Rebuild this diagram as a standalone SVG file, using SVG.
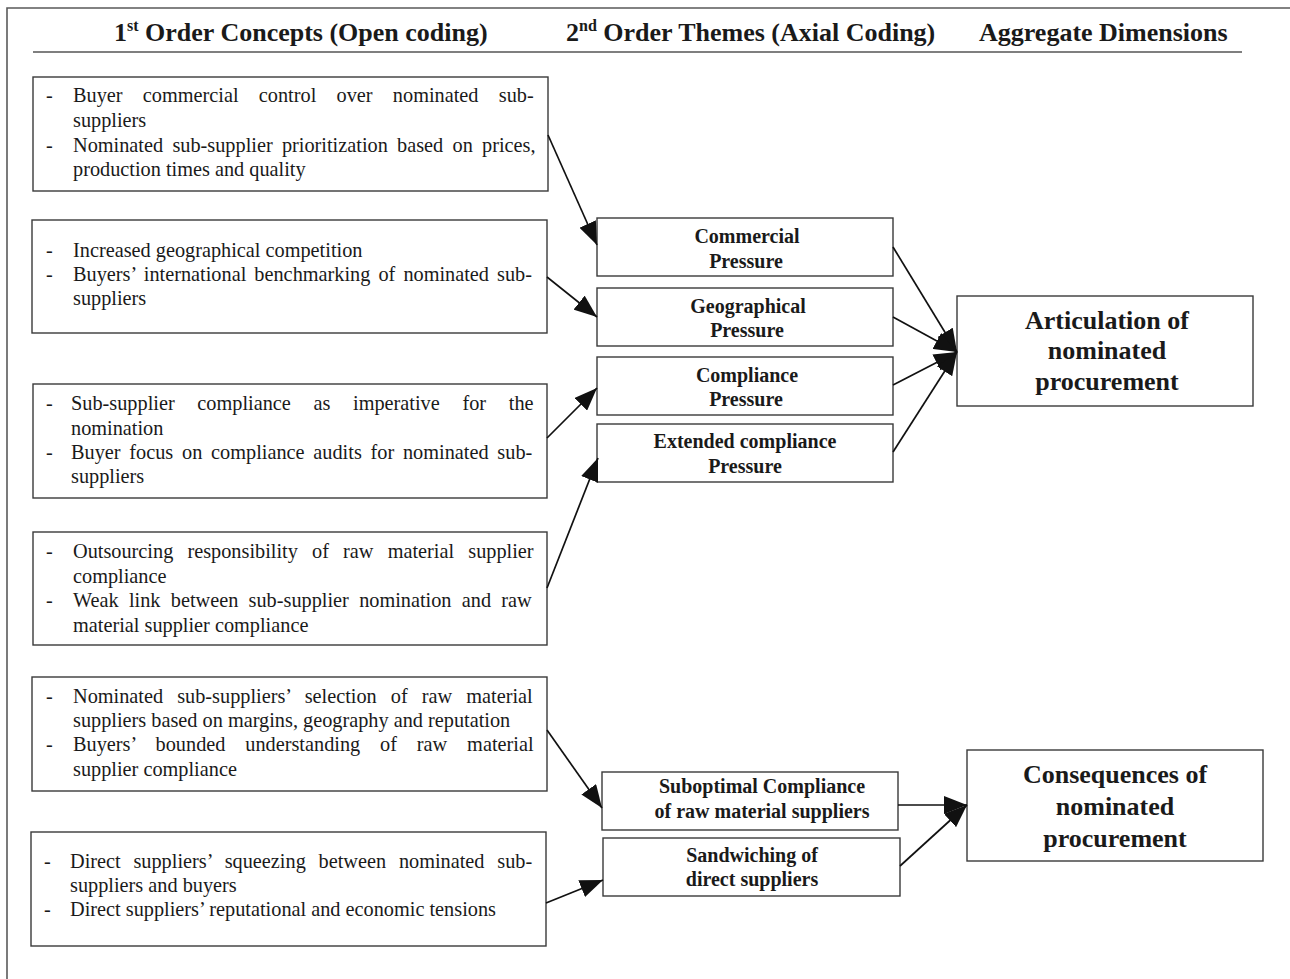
<svg xmlns="http://www.w3.org/2000/svg" width="1290" height="979" viewBox="0 0 1290 979">
<style>
.frame{fill:none;stroke:#5a5a5a;stroke-width:1.6}
.box{fill:#fff;stroke:#3a3a3a;stroke-width:1.4}
.hdr{font-family:"Liberation Serif","Times New Roman",serif;font-weight:bold;font-size:26px;fill:#1a1a1a}
.con{font-family:"Liberation Serif","Times New Roman",serif;font-size:20.3px;fill:#1a1a1a}
.th{font-family:"Liberation Serif","Times New Roman",serif;font-weight:bold;font-size:20px;fill:#1a1a1a;text-anchor:middle}
.ag{font-family:"Liberation Serif","Times New Roman",serif;font-weight:bold;font-size:26px;fill:#1a1a1a;text-anchor:middle}
.edge{fill:none;stroke:#111;stroke-width:1.7}
</style>
<defs>
<marker id="ah" markerUnits="userSpaceOnUse" markerWidth="24" markerHeight="18" refX="23" refY="9" orient="auto">
<path d="M0,0 L23,9 L0,18 Z" fill="#111"/>
</marker>
</defs>
<rect width="1290" height="979" fill="#fff"/>
<g id="frame">
<path class="frame" d="M7,979 L7,8 L1290,8"/>
<line x1="33" y1="52" x2="1242" y2="52" stroke="#555" stroke-width="1.6"/>
</g>
<g id="headers">
<text class="hdr" x="114" y="41">1<tspan font-size="16" dy="-10">st</tspan><tspan dy="10"> Order Concepts (Open coding)</tspan></text>
<text class="hdr" x="566" y="41">2<tspan font-size="16" dy="-10">nd</tspan><tspan dy="10"> Order Themes (Axial Coding)</tspan></text>
<text class="hdr" x="979" y="41">Aggregate Dimensions</text>
</g>
<g id="c1">
<rect class="box" x="33" y="77" width="515" height="114"/>
<text class="con" x="46" y="102">-</text>
<text class="con" x="73" y="102" word-spacing="15.2">Buyer commercial control over nominated sub-</text>
<text class="con" x="73" y="127">suppliers</text>
<text class="con" x="46" y="152">-</text>
<text class="con" x="73" y="152" word-spacing="4.2">Nominated sub-supplier prioritization based on prices,</text>
<text class="con" x="73" y="176">production times and quality</text>
</g>
<g id="c2">
<rect class="box" x="32" y="220" width="515" height="113"/>
<text class="con" x="46" y="257">-</text>
<text class="con" x="73" y="257">Increased geographical competition</text>
<text class="con" x="46" y="281">-</text>
<text class="con" x="73" y="281" word-spacing="3.0">Buyers’ international benchmarking of nominated sub-</text>
<text class="con" x="73" y="305">suppliers</text>
</g>
<g id="c3">
<rect class="box" x="33" y="384" width="514" height="114"/>
<text class="con" x="46" y="410">-</text>
<text class="con" x="71" y="410" word-spacing="17.6">Sub-supplier compliance as imperative for the</text>
<text class="con" x="71" y="435">nomination</text>
<text class="con" x="46" y="459">-</text>
<text class="con" x="71" y="459" word-spacing="3.7">Buyer focus on compliance audits for nominated sub-</text>
<text class="con" x="71" y="483">suppliers</text>
</g>
<g id="c4">
<rect class="box" x="33" y="532" width="514" height="113"/>
<text class="con" x="46" y="558">-</text>
<text class="con" x="73" y="558" word-spacing="9.1">Outsourcing responsibility of raw material supplier</text>
<text class="con" x="73" y="583">compliance</text>
<text class="con" x="46" y="607">-</text>
<text class="con" x="73" y="607" word-spacing="5.2">Weak link between sub-supplier nomination and raw</text>
<text class="con" x="73" y="632">material supplier compliance</text>
</g>
<g id="c5">
<rect class="box" x="32" y="677" width="515" height="114"/>
<text class="con" x="46" y="703">-</text>
<text class="con" x="73" y="703" word-spacing="9.0">Nominated sub-suppliers’ selection of raw material</text>
<text class="con" x="73" y="727">suppliers based on margins, geography and reputation</text>
<text class="con" x="46" y="751">-</text>
<text class="con" x="73" y="751" word-spacing="14.8">Buyers’ bounded understanding of raw material</text>
<text class="con" x="73" y="776">supplier compliance</text>
</g>
<g id="c6">
<rect class="box" x="31" y="832" width="515" height="114"/>
<text class="con" x="44" y="868">-</text>
<text class="con" x="70" y="868" word-spacing="7.7">Direct suppliers’ squeezing between nominated sub-</text>
<text class="con" x="70" y="892">suppliers and buyers</text>
<text class="con" x="44" y="916">-</text>
<text class="con" x="70" y="916">Direct suppliers’ reputational and economic tensions</text>
</g>
<g id="t-commercial">
<rect class="box" x="597" y="218" width="296" height="58"/>
<text class="th" x="747" y="243">Commercial</text>
<text class="th" x="746" y="268">Pressure</text>
</g>
<g id="t-geographical">
<rect class="box" x="597" y="288" width="296" height="58"/>
<text class="th" x="748" y="313">Geographical</text>
<text class="th" x="747" y="337">Pressure</text>
</g>
<g id="t-compliance">
<rect class="box" x="597" y="357" width="296" height="58"/>
<text class="th" x="747" y="382">Compliance</text>
<text class="th" x="746" y="406">Pressure</text>
</g>
<g id="t-extended">
<rect class="box" x="597" y="424" width="296" height="58"/>
<text class="th" x="745" y="448">Extended compliance</text>
<text class="th" x="745" y="473">Pressure</text>
</g>
<g id="t-suboptimal">
<rect class="box" x="602" y="772" width="296" height="58"/>
<text class="th" x="762" y="793">Suboptimal Compliance</text>
<text class="th" x="762" y="818">of raw material suppliers</text>
</g>
<g id="t-sandwiching">
<rect class="box" x="603" y="838" width="297" height="58"/>
<text class="th" x="752" y="862">Sandwiching of</text>
<text class="th" x="752" y="886">direct suppliers</text>
</g>
<g id="a-articulation">
<rect class="box" x="957" y="296" width="296" height="110"/>
<text class="ag" x="1107" y="329">Articulation of</text>
<text class="ag" x="1107" y="359">nominated</text>
<text class="ag" x="1107" y="390">procurement</text>
</g>
<g id="a-consequences">
<rect class="box" x="967" y="750" width="296" height="111"/>
<text class="ag" x="1115" y="783">Consequences of</text>
<text class="ag" x="1115" y="815">nominated</text>
<text class="ag" x="1115" y="847">procurement</text>
</g>
<g id="connectors">
<line class="edge" x1="548" y1="135" x2="597" y2="245" marker-end="url(#ah)"/>
<line class="edge" x1="547" y1="277" x2="597" y2="317" marker-end="url(#ah)"/>
<line class="edge" x1="547" y1="438" x2="597" y2="388" marker-end="url(#ah)"/>
<line class="edge" x1="547" y1="588" x2="598" y2="458" marker-end="url(#ah)"/>
<line class="edge" x1="893" y1="247" x2="957" y2="352" marker-end="url(#ah)"/>
<line class="edge" x1="893" y1="317" x2="957" y2="352" marker-end="url(#ah)"/>
<line class="edge" x1="893" y1="385" x2="957" y2="352" marker-end="url(#ah)"/>
<line class="edge" x1="893" y1="452" x2="957" y2="352" marker-end="url(#ah)"/>
<line class="edge" x1="547" y1="730" x2="602" y2="808" marker-end="url(#ah)"/>
<line class="edge" x1="546" y1="903" x2="603" y2="880" marker-end="url(#ah)"/>
<line class="edge" x1="898" y1="805" x2="967" y2="805" marker-end="url(#ah)"/>
<line class="edge" x1="900" y1="866" x2="967" y2="805" marker-end="url(#ah)"/>
</g>
</svg>
